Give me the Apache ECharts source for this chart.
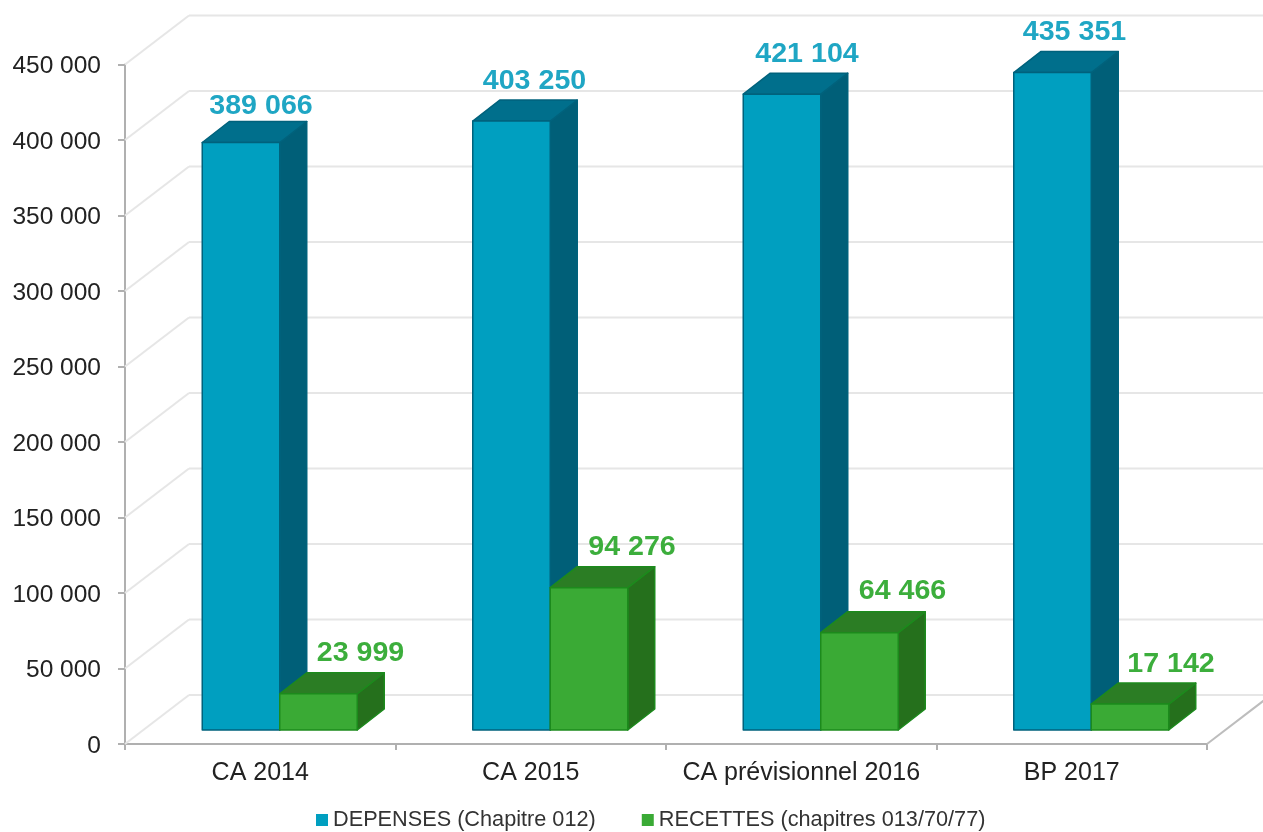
<!DOCTYPE html>
<html>
<head>
<meta charset="utf-8">
<style>
  html, body { margin: 0; padding: 0; background: #fff; }
  #chart { width: 1263px; height: 832px; filter: blur(0.7px); }
</style>
</head>
<body>
<div id="chart"></div>
<script src="https://cdn.jsdelivr.net/npm/echarts@6/dist/echarts.min.js"></script>
<script>
const categories = ['CA 2014', 'CA 2015', 'CA prévisionnel 2016', 'BP 2017']
const depenses = [389066, 403250, 421104, 435351]
const recettes = [23999, 94276, 64466, 17142]
const gridValues = [0, 50000, 100000, 150000, 200000, 250000, 300000, 350000, 400000, 450000]

const FONT = '"Liberation Sans", Arial, sans-serif'
// pseudo 3D offsets, in pixels
const WALL = [64, -49]
const BAR_START = [19.5, -14]
const BAR_DEPTH = [27, -21]
// data labels were placed by hand in the original, so nudge them per bar
const depensesLabelNudge = [[-2, 5], [1, 1], [3, 1], [0, 1]]
const recettesLabelNudge = [[0, 1], [1, 1], [1, 0], [-1, 1]]

const formatNumber = v => String(v).replace(/\B(?=(\d{3})+$)/g, ' ')

const poly = (points, fill, stroke) => ({
  type: 'polygon',
  shape: { points },
  style: { fill, stroke, lineWidth: 1.5, lineJoin: 'round' }
})

// side: 0 = left bar of the pair, 1 = right bar
const renderBar = (side, colors, labelShift, nudges) => (params, api) => {
  const base = api.coord([api.value(0), 0])
  const top = api.coord([api.value(0), api.value(1)])
  const w = api.size([1, 0])[0] * 0.2865
  const x0 = base[0] + BAR_START[0] - w + side * w
  const x1 = x0 + w
  const yb = base[1] + BAR_START[1]
  const yt = top[1] + BAR_START[1]
  const dx = BAR_DEPTH[0]
  const dy = BAR_DEPTH[1]
  const nudge = nudges[params.dataIndex]
  return {
    type: 'group',
    children: [
      poly([[x1, yb], [x1 + dx, yb + dy], [x1 + dx, yt + dy], [x1, yt]], colors.side, colors.edge),
      poly([[x0, yt], [x1, yt], [x1 + dx, yt + dy], [x0 + dx, yt + dy]], colors.top, colors.edge),
      poly([[x0, yb], [x1, yb], [x1, yt], [x0, yt]], colors.front, colors.edge),
      {
        type: 'text',
        x: (x0 + x1) / 2 + labelShift + nudge[0],
        y: yt + dy - 20 + nudge[1],
        scaleX: 1.06,
        style: {
          text: formatNumber(api.value(1)),
          x: 0,
          y: 0,
          align: 'center',
          verticalAlign: 'middle',
          font: 'bold 27px ' + FONT,
          fill: colors.label
        }
      }
    ]
  }
}

const renderWall = (params, api) => {
  const p = api.coord([0, api.value(0)])
  const left = params.coordSys.x
  const right = params.coordSys.x + params.coordSys.width
  const y = p[1]
  const lineStyle = { stroke: '#e6e6e6', lineWidth: 2 }
  const children = [
    { type: 'line', shape: { x1: left, y1: y, x2: left + WALL[0], y2: y + WALL[1] }, style: lineStyle },
    { type: 'line', shape: { x1: left + WALL[0], y1: y + WALL[1], x2: right + WALL[0], y2: y + WALL[1] }, style: lineStyle }
  ]
  if (api.value(0) === 0) {
    children.push({
      type: 'line',
      shape: { x1: right, y1: y, x2: right + WALL[0], y2: y + WALL[1] },
      style: { stroke: '#bdbdbd', lineWidth: 2 }
    })
  }
  return { type: 'group', children }
}

const chart = echarts.init(document.getElementById('chart'))

chart.setOption({
  animation: false,
  backgroundColor: '#fff',
  textStyle: { fontFamily: FONT },
  legend: {
    left: 316,
    top: 809,
    padding: 0,
    icon: 'rect',
    itemWidth: 12,
    itemHeight: 12,
    itemGap: 46,
    data: ['DEPENSES (Chapitre 012)', 'RECETTES (chapitres 013/70/77)'],
    textStyle: { fontFamily: FONT, fontSize: 21.7, color: '#333', padding: [0, 0, 0, 0] }
  },
  grid: { left: 125, right: 56, top: 64.5, bottom: 88 },
  xAxis: {
    type: 'category',
    data: categories,
    axisLine: { lineStyle: { color: '#b0b0b0', width: 2 } },
    axisTick: { show: true, interval: 0, length: 6, lineStyle: { color: '#b0b0b0', width: 2 } },
    axisLabel: { color: '#222', fontFamily: FONT, fontSize: 25, margin: 17, interval: 0 }
  },
  yAxis: {
    type: 'value',
    min: 0,
    max: 450000,
    interval: 50000,
    splitLine: { show: false },
    axisLine: { show: true, lineStyle: { color: '#b0b0b0', width: 2 } },
    axisTick: { show: true, length: 7, lineStyle: { color: '#b0b0b0', width: 2 } },
    axisLabel: {
      margin: 24,
      formatter: v => `{v|${formatNumber(v)}}`,
      rich: {
        v: { color: '#222', fontFamily: FONT, fontSize: 24.5, padding: [4, 0, 0, 0] }
      }
    }
  },
  series: [
    {
      name: 'wall',
      type: 'custom',
      silent: true,
      z: 1,
      renderItem: renderWall,
      data: gridValues.map(v => [v]),
      encode: { y: 0 }
    },
    {
      name: 'DEPENSES (Chapitre 012)',
      type: 'custom',
      z: 2,
      itemStyle: { color: '#009fc0', borderColor: '#00627c' },
      renderItem: renderBar(0, {
        front: '#009fc0', side: '#005f78', top: '#006f8c', edge: '#00627c', label: '#1fa6c4'
      }, 22, depensesLabelNudge),
      data: depenses.map((v, i) => [i, v]),
      encode: { x: 0, y: 1 }
    },
    {
      name: 'RECETTES (chapitres 013/70/77)',
      type: 'custom',
      z: 3,
      itemStyle: { color: '#3aaa35', borderColor: '#1c7a1c' },
      renderItem: renderBar(1, {
        front: '#3aaa35', side: '#25701c', top: '#2b7d24', edge: '#1c8a1c', label: '#3cae3c'
      }, 42, recettesLabelNudge),
      data: recettes.map((v, i) => [i, v]),
      encode: { x: 0, y: 1 }
    }
  ]
})
</script>
</body>
</html>
